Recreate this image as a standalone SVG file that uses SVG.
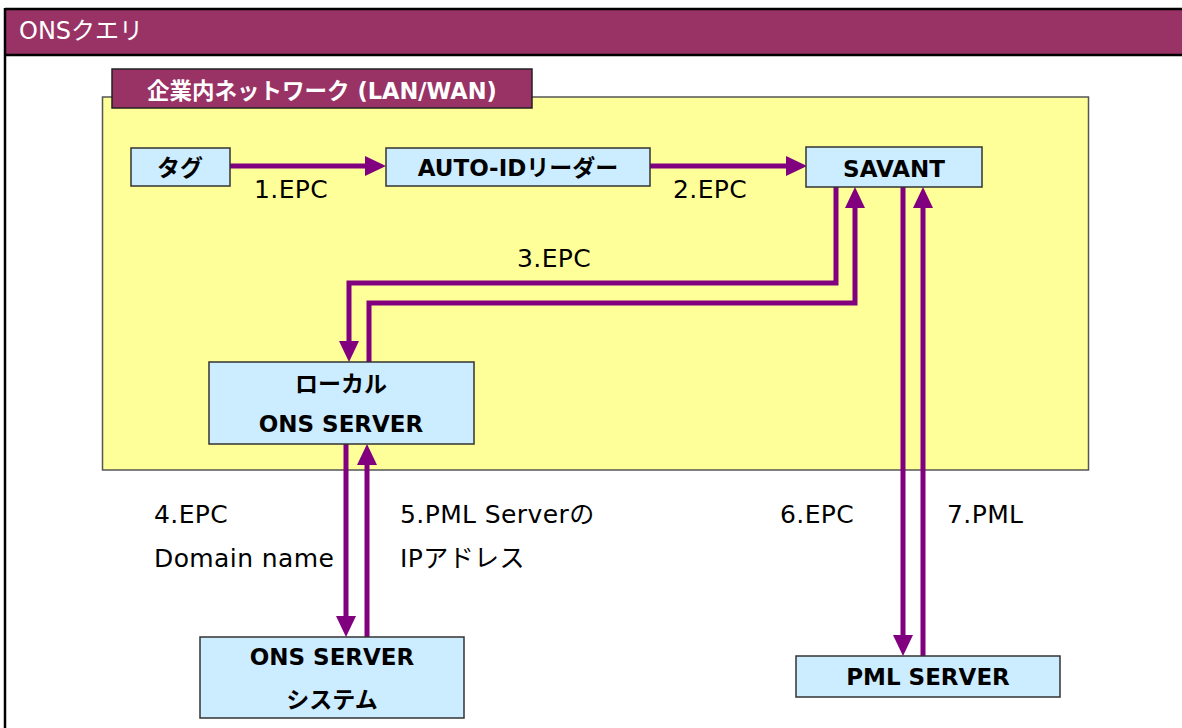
<svg xmlns="http://www.w3.org/2000/svg" width="1182" height="728" viewBox="0 0 1182 728">
<style>
.lbl{font-family:Verdana,"DejaVu Sans","Noto Sans CJK JP",sans-serif;font-size:25px;letter-spacing:0.4px;fill:#000}
.nt{font-family:Verdana,"DejaVu Sans","Noto Sans CJK JP",sans-serif;font-size:23px;font-weight:bold;fill:#000;text-anchor:middle}
.box{fill:#CCECFF;stroke:#333;stroke-width:1.5}
.conn{fill:none;stroke:#800080;stroke-width:5}
</style>
<defs>
<marker id="ah" viewBox="0 0 21 20" refX="6" refY="10" markerWidth="21" markerHeight="20" markerUnits="userSpaceOnUse" orient="auto">
<path d="M0,0 L21,10 L0,20 z" fill="#800080"/>
</marker>
</defs>
<rect x="0" y="0" width="1182" height="728" fill="#fff"/>
<g id="frame">
<rect x="5" y="9" width="1180" height="46" fill="#993366"/>
<line x1="5" y1="9" x2="1182" y2="9" stroke="#000" stroke-width="2.5"/>
<line x1="5" y1="55" x2="1182" y2="55" stroke="#000" stroke-width="2.5"/>
<line x1="5" y1="8" x2="5" y2="728" stroke="#000" stroke-width="2.5"/>
<text x="19" y="39" font-family="Verdana,'DejaVu Sans','Noto Sans CJK JP',sans-serif" font-size="24" fill="#fff">ONSクエリ</text>
</g>
<g id="lan">
<rect x="102.5" y="97" width="986" height="373" fill="#FFFF99" stroke="#555" stroke-width="1.5"/>
<rect x="112" y="69" width="420" height="39" fill="#993366" stroke="#222" stroke-width="1.5"/>
<text x="322" y="99" text-anchor="middle" font-family="Verdana,'DejaVu Sans','Noto Sans CJK JP',sans-serif" font-size="22.5" font-weight="bold" fill="#fff">企業内ネットワーク (LAN/WAN)</text>
</g>
<g id="connectors">
<path class="conn" d="M230,166 H371" marker-end="url(#ah)"/>
<path class="conn" d="M650,166 H792" marker-end="url(#ah)"/>
<path class="conn" d="M836,187 V283 H349 V347" marker-end="url(#ah)"/>
<path class="conn" d="M369,362 V303 H855 V202" marker-end="url(#ah)"/>
<path class="conn" d="M346,444 V622" marker-end="url(#ah)"/>
<path class="conn" d="M367,637 V459" marker-end="url(#ah)"/>
<path class="conn" d="M903,187 V641" marker-end="url(#ah)"/>
<path class="conn" d="M923,656 V202" marker-end="url(#ah)"/>
</g>
<g id="labels">
<text class="lbl" x="254" y="198">1.EPC</text>
<text class="lbl" x="673" y="198">2.EPC</text>
<text class="lbl" x="517" y="267">3.EPC</text>
<text class="lbl" x="154" y="523">4.EPC</text>
<text class="lbl" x="154" y="567">Domain name</text>
<text class="lbl" x="400" y="523">5.PML Serverの</text>
<text class="lbl" x="400" y="567">IPアドレス</text>
<text class="lbl" x="780" y="523">6.EPC</text>
<text class="lbl" x="947" y="523">7.PML</text>
</g>
<g id="tag">
<rect class="box" x="131" y="148" width="99" height="38"/>
<text class="nt" x="180" y="176">タグ</text>
</g>
<g id="reader">
<rect class="box" x="386" y="148" width="264" height="38"/>
<text class="nt" x="518" y="176">AUTO-IDリーダー</text>
</g>
<g id="savant">
<rect class="box" x="806" y="147" width="176" height="40"/>
<text class="nt" x="894" y="177">SAVANT</text>
</g>
<g id="local-ons">
<rect class="box" x="209" y="362" width="265" height="82"/>
<text class="nt" x="341" y="392">ローカル</text>
<text class="nt" x="341" y="432">ONS SERVER</text>
</g>
<g id="ons-system">
<rect class="box" x="200" y="637" width="264" height="81"/>
<text class="nt" x="332" y="665">ONS SERVER</text>
<text class="nt" x="332" y="708">システム</text>
</g>
<g id="pml">
<rect class="box" x="796" y="656" width="264" height="41"/>
<text class="nt" x="928" y="685">PML SERVER</text>
</g>
</svg>
